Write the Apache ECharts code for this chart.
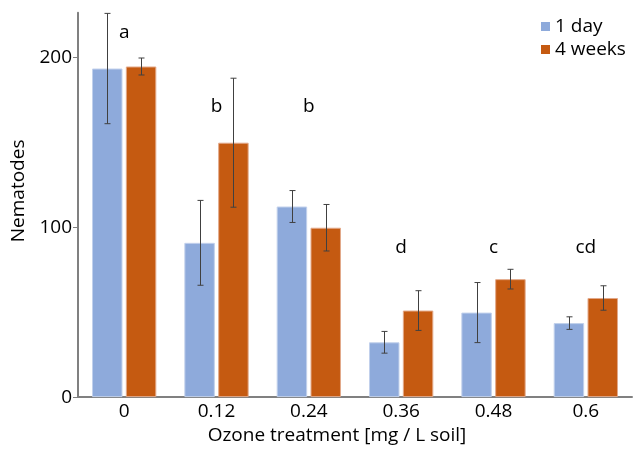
<!DOCTYPE html>
<html>
<head>
<meta charset="utf-8">
<script src="https://cdn.jsdelivr.net/npm/echarts@6/dist/echarts.min.js"></script>
<style>
  html, body { margin: 0; padding: 0; background: #fff; }
  #chart { width: 640px; height: 450px; }
</style>
</head>
<body>
<div id="chart"></div>
<script>
// ozone doses
const doses = ['0', '0.12', '0.24', '0.36', '0.48', '0.6'];

// nematode counts and error bars
const oneDay = [193.6, 90.9, 112.3, 32.3, 49.8, 43.6];
const oneDayErr = [32.5, 25, 9.4, 6.4, 17.7, 3.7];
const fourWeeks = [194.8, 149.9, 99.8, 51, 69.5, 58.4];
const fourWeeksErr = [5, 38, 13.7, 11.7, 5.8, 7.2];

// significance letters and where they sit
const letters = ['a', 'b', 'b', 'd', 'c', 'cd'];
const letterY = [215, 171, 171, 88, 88, 88];

const yTicks = [0, 100, 200];

const FONT = '"Open Sans", sans-serif';
const FS = 19;
const BAR_W = 0.33;
const BAR_GAP = 0.11;

const chart = echarts.init(document.getElementById('chart'));

function errorSeries(values, errs, side) {
  return {
    type: 'custom',
    silent: true,
    z: 5,
    data: values.map((v, i) => [i, v, errs[i]]),
    renderItem: (params, api) => {
      const idx = api.value(0);
      const catW = api.size([1, 0])[0];
      const bw = catW * BAR_W;
      const dx = side * bw * (1 + BAR_GAP) / 2;
      const top = api.coord([idx, api.value(1) + api.value(2)]);
      const bot = api.coord([idx, api.value(1) - api.value(2)]);
      const x = Math.round(top[0] + dx) + 0.5;
      const cap = 3;
      const style = { stroke: '#404040', lineWidth: 1 };
      return {
        type: 'group',
        children: [
          { type: 'line', shape: { x1: x, y1: top[1], x2: x, y2: bot[1] }, style },
          { type: 'line', shape: { x1: x - cap, y1: top[1], x2: x + cap, y2: top[1] }, style },
          { type: 'line', shape: { x1: x - cap, y1: bot[1], x2: x + cap, y2: bot[1] }, style }
        ]
      };
    }
  };
}

chart.setOption({
  animation: false,
  textStyle: { fontFamily: FONT },
  grid: { left: 78, right: 8, top: 12.7, bottom: 49.3 },
  legend: {
    orient: 'vertical',
    left: 536,
    top: 12,
    icon: 'rect',
    itemWidth: 9,
    itemHeight: 9,
    itemGap: 4,
    data: ['1 day', '4 weeks'],
    itemStyle: { borderWidth: 0 },
    textStyle: { fontFamily: FONT, fontSize: FS, color: '#000' }
  },
  xAxis: {
    type: 'category',
    data: doses,
    name: 'Ozone treatment [mg / L soil]',
    nameLocation: 'middle',
    nameGap: 27,
    nameTextStyle: { fontFamily: FONT, fontSize: FS, color: '#000', padding: [0, 36, 0, 0] },
    axisLine: { lineStyle: { color: '#808080', width: 2 } },
    axisTick: { show: false },
    axisLabel: { fontFamily: FONT, fontSize: FS, color: '#000', margin: 5 }
  },
  yAxis: {
    type: 'value',
    min: 0,
    max: 226.5,
    interval: 100,
    name: 'Nematodes',
    nameLocation: 'middle',
    nameGap: 44,
    nameTextStyle: { fontFamily: FONT, fontSize: FS, color: '#000', padding: [0, 0, 0, 28] },
    splitLine: { show: false },
    axisLine: { show: true, lineStyle: { color: '#808080', width: 2 } },
    axisTick: { show: true, length: 5, customValues: yTicks, lineStyle: { color: '#808080', width: 1 } },
    axisLabel: { fontFamily: FONT, fontSize: FS, color: '#000', margin: 6, customValues: yTicks }
  },
  series: [
    {
      name: '1 day',
      type: 'bar',
      data: oneDay,
      barWidth: (BAR_W * 100) + '%',
      barGap: (BAR_GAP * 100) + '%',
      itemStyle: { color: '#8eaadb', borderColor: '#c2d1ec', borderWidth: 1 }
    },
    {
      name: '4 weeks',
      type: 'bar',
      data: fourWeeks,
      barWidth: (BAR_W * 100) + '%',
      barGap: (BAR_GAP * 100) + '%',
      itemStyle: { color: '#c55a11', borderColor: '#e3a98a', borderWidth: 1 }
    },
    errorSeries(oneDay, oneDayErr, -1),
    errorSeries(fourWeeks, fourWeeksErr, 1),
    {
      type: 'scatter',
      silent: true,
      symbolSize: 0,
      itemStyle: { opacity: 1, color: 'transparent' },
      data: letterY.map((v, i) => [i, v]),
      label: {
        show: true,
        position: 'inside',
        formatter: (p) => letters[p.dataIndex],
        fontFamily: FONT,
        fontSize: FS,
        color: '#000',
        opacity: 1
      }
    }
  ]
});
</script>
</body>
</html>
